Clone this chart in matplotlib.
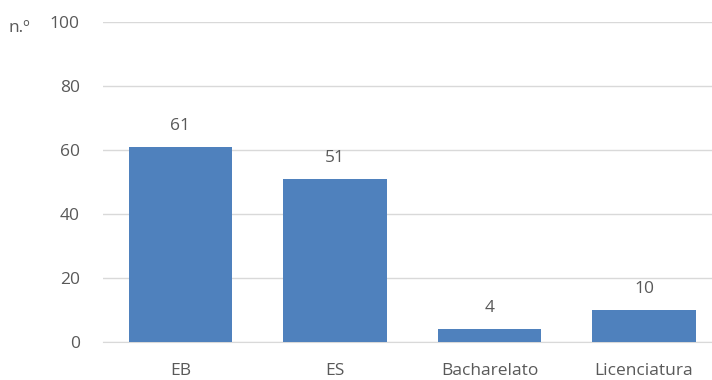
import matplotlib.pyplot as plt

plt.rcParams['font.family'] = ['Open Sans', 'DejaVu Sans']

categories = ["EB", "ES", "Bacharelato", "Licenciatura"]
values = [61, 51, 4, 10]
yticks = [0, 20, 40, 60, 80, 100]

fig, ax = plt.subplots(figsize=(7.12, 3.80), dpi=100)
fig.subplots_adjust(left=0.145, right=1.013, top=0.942, bottom=0.1)

x = range(len(categories))
ax.bar(x, values, width=0.667, color="#4F81BD", zorder=3)
for xi, v in zip(x, values):
    ax.text(xi, v + 4, str(v), ha="center", va="bottom", fontsize=12.5, color="#595959")

ax.set_xlim(-0.5, len(categories) - 0.5)
ax.set_ylim(0, 100)
ax.set_yticks(yticks)
ax.set_xticks(list(x))
ax.set_xticklabels(categories)
ax.grid(axis="y", color="#D9D9D9", linewidth=1, zorder=0)
for s in ["top", "right", "left"]:
    ax.spines[s].set_visible(False)
ax.spines["bottom"].set_color("#D9D9D9")
ax.tick_params(axis="both", length=0, labelsize=12.5, colors="#595959")
ax.tick_params(axis="y", pad=17)
ax.tick_params(axis="x", pad=15)

fig.text(0.012, 0.925, "n.º", fontsize=12.5, color="#595959", ha="left", va="center")

plt.savefig("out.png", dpi=100)
